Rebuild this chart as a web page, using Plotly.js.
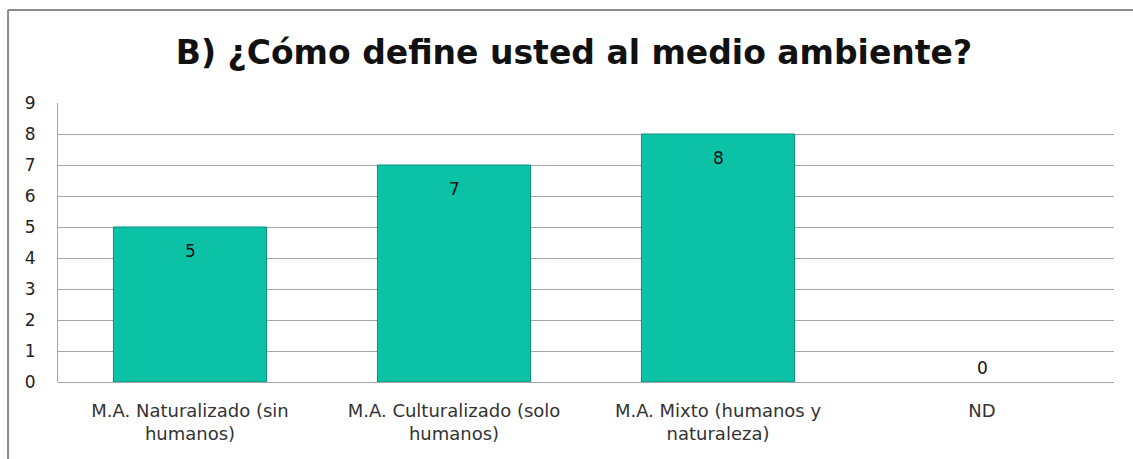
<!DOCTYPE html>
<html><head><meta charset="utf-8">
<script src="https://cdn.plot.ly/plotly-3.0.1.min.js"></script>
<style>body{margin:0;background:#fff}#chart{width:1133px;height:459px}</style>
</head><body><div id="chart"></div>
<script>
const categories = ["M.A. Naturalizado (sin<br>humanos)", "M.A. Culturalizado (solo<br>humanos)", "M.A. Mixto (humanos y<br>naturaleza)", "ND"];
const values = [5, 7, 8, 0];
const yTicks = [0,1,2,3,4,5,6,7,8,9];
const titleText = "B) ¿Cómo define usted al medio ambiente?";

const FONT = 'DejaVu Sans, sans-serif';
const trace = {
  type: 'bar', x: categories, y: values,
  marker: {color: '#0bc2a7', line: {color: '#0a8f7c', width: values.map(v => v > 0 ? 1 : 0)}},
  width: 0.58, hoverinfo: 'none'
};
const annotations = categories.map((c, i) => ({
  x: c, y: values[i], xref: 'x', yref: 'y', text: String(values[i]), showarrow: false,
  yanchor: values[i] > 0 ? 'top' : 'bottom', yshift: values[i] > 0 ? -12 : 2,
  font: {family: FONT, size: 17, color: '#111'}
}));
const layout = {
  width: 1133, height: 459,
  margin: {l: 58, r: 19, t: 103, b: 77},
  paper_bgcolor: '#fff', plot_bgcolor: '#fff',
  title: {text: '<b>' + titleText + '</b>', x: 0.5066, xanchor: 'center', y: 0.885, yanchor: 'middle',
    font: {family: FONT, size: 33, color: '#111'}},
  xaxis: {showgrid: false, showline: false, zeroline: false, ticks: '', ticklabelstandoff: 16,
    tickfont: {family: FONT, size: 18, color: '#333'}, fixedrange: true},
  yaxis: {range: [0, 9], tickvals: yTicks, showgrid: true, gridcolor: '#a6a6a6', gridwidth: 1,
    showline: true, linecolor: '#a6a6a6', linewidth: 1, zeroline: true, zerolinecolor: '#a6a6a6',
    ticks: '', ticklabelstandoff: 18, tickfont: {family: FONT, size: 17, color: '#222'}, fixedrange: true},
  showlegend: false,
  annotations: annotations,
  shapes: [
    {type: 'line', xref: 'paper', yref: 'paper', x0: -0.0473, x1: 1.02, y0: 1.333, y1: 1.333, line: {color: '#8c8c8c', width: 2}},
    {type: 'line', xref: 'paper', yref: 'paper', x0: -0.0473, x1: -0.0473, y0: 1.333, y1: -0.28, line: {color: '#8c8c8c', width: 2}}
  ]
};
Plotly.newPlot('chart', [trace], layout, {displayModeBar: false, staticPlot: true});
</script></body></html>
